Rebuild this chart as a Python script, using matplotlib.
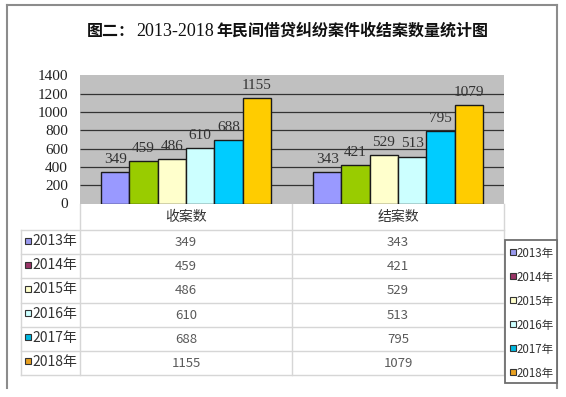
import matplotlib
matplotlib.use("Agg")
import matplotlib.pyplot as plt
from matplotlib.patches import Rectangle

# ---- data ----
categories = ['收案数', '结案数']
years = ['2013年', '2014年', '2015年', '2016年', '2017年', '2018年']
received = [349, 459, 486, 610, 688, 1155]
closed = [343, 421, 529, 513, 795, 1079]
yticks = [0, 200, 400, 600, 800, 1000, 1200, 1400]
title_a = '图二：'
title_b = '2013-2018'
title_c = '年民间借贷纠纷案件收结案数量统计图'

bar_colors = ['#9999FF', '#99CC00', '#FFFFCC', '#CCFFFF', '#00CCFF', '#FFCC00']
marker_colors = ['#9999EE', '#993366', '#FFFFCC', '#CCFFFF', '#00B8E0', '#E8A020']

W, H = 566, 397
fig = plt.figure(figsize=(W / 100, H / 100), dpi=100)
fig.patch.set_facecolor('white')

# overlay axes in pixel coordinates
ov = fig.add_axes([0, 0, 1, 1], zorder=0)
ov.set_xlim(0, W)
ov.set_ylim(H, 0)
ov.axis('off')

CJK = ['Noto Sans CJK SC', 'DejaVu Sans']
SERIF = ['Liberation Serif', 'DejaVu Serif']

# outer frame
fc = '#8C8C8C'
ov.plot([7, 7], [5, 388], color=fc, lw=1.5)
ov.plot([7, 557], [5, 5], color=fc, lw=1.5)
ov.plot([557, 557], [5, 388], color=fc, lw=1.5)

# title
ov.text(87, 36, title_a, family=CJK, fontsize=11.5, fontweight='bold', va='baseline', ha='left', color='#111111')
ov.text(136, 36, title_b, family=SERIF, fontsize=13, va='baseline', ha='left', color='#111111')
ov.text(216, 36, title_c, family=CJK, fontsize=11.5, fontweight='bold', va='baseline', ha='left', color='#111111')

# plot area geometry (pixels)
L, R, T, B = 80, 504, 75.3, 203.5

# data table
lc = '#D6D6D6'
col_x = [80, 292, 504]
row_y = [230 + 24.17 * i for i in range(len(years) + 1)]
tbl_left = 21
for x in col_x:
    ov.plot([x, x], [B, row_y[-1]], color=lc, lw=1, zorder=1)
ov.plot([tbl_left, tbl_left], [row_y[0], row_y[-1]], color=lc, lw=1, zorder=1)
for y in row_y:
    ov.plot([tbl_left, col_x[2]], [y, y], color=lc, lw=1, zorder=1)

col_centers = [(col_x[0] + col_x[1]) / 2, (col_x[1] + col_x[2]) / 2]
for cx, cat in zip(col_centers, categories):
    ov.text(cx, 217, cat, family=CJK, fontsize=10, ha='center', va='center', color='#333333')

series = [received, closed]
for i, yr in enumerate(years):
    cy = (row_y[i] + row_y[i + 1]) / 2
    ov.add_patch(Rectangle((25, cy - 4.5), 6, 6, facecolor=marker_colors[i], edgecolor='#333333', lw=0.8, zorder=2))
    ov.text(32, cy - 1, yr, family=CJK, fontsize=10, ha='left', va='center', color='#333333')
    for j, s in enumerate(series):
        ov.text(col_centers[j], cy + 0.5, str(s[i]), family=CJK, fontsize=9.5, ha='center', va='center', color='#5A5A5A')

# legend box
lg = Rectangle((505, 240), 52, 143, facecolor='white', edgecolor='#6E6E6E', lw=1.3, zorder=3)
ov.add_patch(lg)
for i, yr in enumerate(years):
    cy = 253 + 24 * i
    ov.add_patch(Rectangle((509.5, cy - 4), 6, 6, facecolor=marker_colors[i], edgecolor='#333333', lw=0.8, zorder=4))
    ov.text(517, cy, yr, family=CJK, fontsize=8.3, ha='left', va='center', color='#333333', zorder=4)

# bar chart axes
ax = fig.add_axes([L / W, (H - B) / H, (R - L) / W, (B - T) / H], zorder=2)
ax.set_facecolor('#C0C0C0')
for sp in ax.spines.values():
    sp.set_visible(False)
ax.set_xlim(-0.5, len(categories) - 0.5)
ax.set_ylim(yticks[0], yticks[-1])
ax.set_yticks(yticks)
ax.set_xticks([])
ax.tick_params(axis='y', length=0, pad=8.6, labelsize=11, labelcolor='#222222')
for lab in ax.get_yticklabels():
    lab.set_family(SERIF)
ax.hlines(yticks[1:-1], -0.5, len(categories) - 0.5, color='#333333', lw=0.9, zorder=1)

n = len(years)
w = 1 / (n + 1.5)
for i in range(n):
    vals = [received[i], closed[i]]
    xs = [c + (i - (n - 1) / 2) * w for c in range(len(categories))]
    ax.bar(xs, vals, width=w, color=bar_colors[i], edgecolor='#1A1A1A', lw=1.0, zorder=2)
    for x, v in zip(xs, vals):
        ax.annotate(str(v), (x, v), xytext=(0, 6.5), textcoords='offset points',
                    ha='center', va='baseline', fontsize=11, family=SERIF, color='#333333',
                    zorder=3, annotation_clip=False)

fig.savefig('out.png', dpi=100, facecolor='white')
